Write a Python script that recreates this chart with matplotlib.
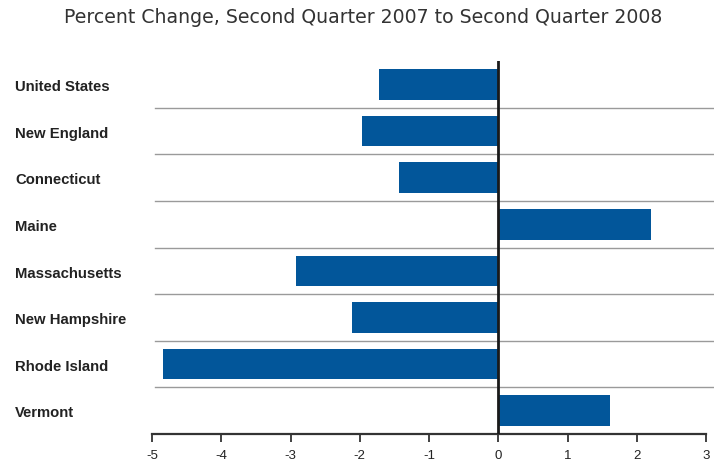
import matplotlib.pyplot as plt
from matplotlib.transforms import blended_transform_factory

regions = ["United States", "New England", "Connecticut", "Maine",
           "Massachusetts", "New Hampshire", "Rhode Island", "Vermont"]
pct_change = [-1.72, -1.97, -1.43, 2.21, -2.92, -2.11, -4.84, 1.62]
x_ticks = [-5, -4, -3, -2, -1, 0, 1, 2, 3]

bar_color = "#02569A"

fig = plt.figure(figsize=(7.14, 4.62), dpi=100)
ax = fig.add_axes([0.2129, 0.0606, 0.7759, 0.807])

y_pos = list(range(len(regions)))
ax.barh(y_pos, pct_change, height=0.66, color=bar_color, zorder=3)
ax.set_ylim(len(regions) - 0.5, -0.5)
ax.set_xlim(-5, 3)

# separators between rows
for i in range(len(regions) - 1):
    ax.axhline(i + 0.5, xmin=0.005, xmax=1.012, color="#9a9a9a", lw=1.0,
               clip_on=False, zorder=1)

ax.axvline(0, color="#1a1a1a", lw=2.0, zorder=4)

for side in ["top", "right", "left"]:
    ax.spines[side].set_visible(False)
ax.spines["bottom"].set_color("#333333")
ax.spines["bottom"].set_linewidth(1.6)

ax.set_yticks([])
ax.set_xticks(x_ticks)
ax.set_xticklabels([str(t) for t in x_ticks], family=["Liberation Sans", "DejaVu Sans"])
ax.tick_params(axis="x", direction="out", length=6, width=1.3, color="#333333",
               pad=5.5, labelsize=9.5, labelcolor="#222222")

trans = blended_transform_factory(fig.transFigure, ax.transData)
for y, name in zip(y_pos, regions):
    ax.text(15 / 714, y + 0.06, name, transform=trans, ha="left", va="center",
            fontsize=10.7, fontweight="bold", color="#222222",
            family=["Liberation Sans", "DejaVu Sans"])

fig.text(0.508, 0.962, "Percent Change, Second Quarter 2007 to Second Quarter 2008",
         ha="center", va="center", fontsize=13.6, color="#333333",
         family=["DejaVu Sans"])

fig.savefig("out.png", dpi=100)
